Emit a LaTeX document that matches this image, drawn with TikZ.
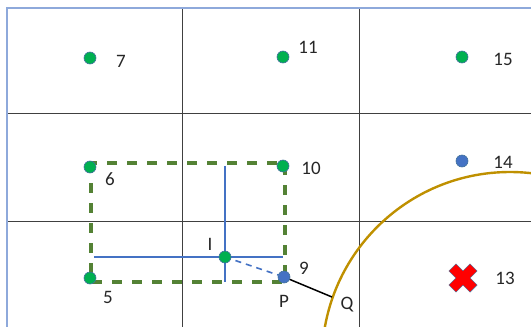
\documentclass[tikz,border=0pt]{standalone}
\usepackage{fontspec}
\setmainfont{Carlito}
\definecolor{dotgreen}{HTML}{00B050}
\definecolor{dotblue}{HTML}{4472C4}
\definecolor{rimblue}{HTML}{41719C}
\definecolor{boxgreen}{HTML}{548235}
\definecolor{arcgold}{HTML}{BF9000}
\definecolor{framebl}{HTML}{8EA9DB}
\begin{document}
\begin{tikzpicture}[x=1pt,y=-1pt,font=\fontsize{19}{22}\selectfont,
  gdot/.style={circle,fill=dotgreen,draw=rimblue,line width=0.6pt,inner sep=0pt,minimum size=12pt},
  bdot/.style={gdot,fill=dotblue},
  lbl/.style={inner sep=0pt,text=black!85},
  gridln/.style={black!75,line width=1pt}]
\useasboundingbox (0,0) rectangle (531,327);
\draw[gridln] (7,113) -- (531,113) (7,221) -- (531,221) (182,8) -- (182,327) (359,8) -- (359,327);
\draw[framebl,line width=2pt] (7,327) -- (7,8) -- (531,8);
\draw[boxgreen,line width=3.2pt,dash pattern=on 10pt off 10pt] (91,163) rectangle (285,282);
\draw[arcgold,line width=2.4pt] (510,360) circle (188);
\foreach \n/\x/\y/\lx/\ly in {7/90/58/121/61,11/283/57/308/47,15/462/57/503/59,6/90/167/110/179,10/283/166/311/168,5/90/278/108/297} {\node[gdot] (p\n) at (\x,\y) {}; \node[lbl] (t\n) at (\lx,\ly) {\n};}
\node[bdot] (p14) at (462,161) {}; \node[lbl] (t14) at (503,162) {14};
\node[bdot] (p9) at (284,277) {}; \node[lbl] (t9) at (304,268) {9};
\coordinate (cI) at (225,257);
\draw[dotblue,line width=1.6pt] (94,257) -- (283,257) (225,166) -- (225,282);
\draw[dotblue,line width=1.6pt,dash pattern=on 6pt off 5pt] (cI) -- (p9);
\node[gdot] (pI) at (cI) {}; \node[lbl] (tI) at (210,244) {I};
\node[lbl] (tP) at (284,301) {P};
\coordinate (q) at (332,297);
\draw[black,line width=1.5pt] (p9) -- (q);
\node[lbl] (tQ) at (347,305) {Q};
\filldraw[fill=red,draw=rimblue,line width=0.4pt,shift={(463,278)},rotate=45] (-5,-15) -- (5,-15) -- (5,-5) -- (15,-5) -- (15,5) -- (5,5) -- (5,15) -- (-5,15) -- (-5,5) -- (-15,5) -- (-15,-5) -- (-5,-5) -- cycle;
\node[lbl] (t13) at (505,278) {13};
\end{tikzpicture}
\end{document}
